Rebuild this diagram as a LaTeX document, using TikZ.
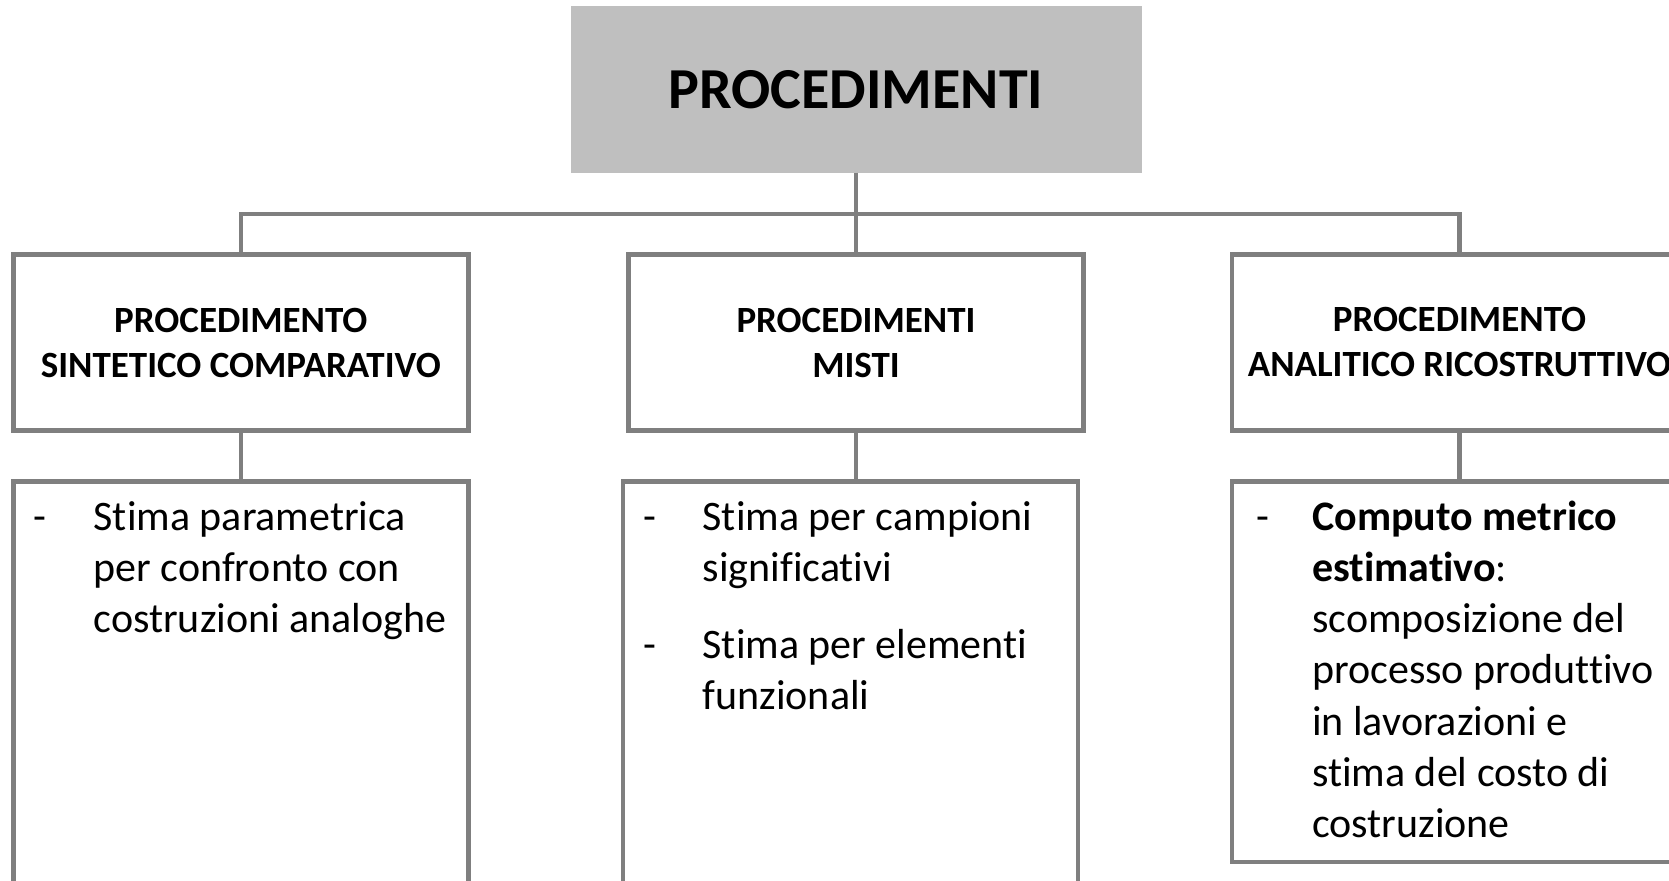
\documentclass[tikz,border=0pt]{standalone}
\usepackage{fontspec}
\setmainfont{Carlito}[Ligatures=NoCommon]
\definecolor{linegray}{HTML}{7F7F7F}
\definecolor{titlegray}{HTML}{BFBFBF}

\begin{document}
\begin{tikzpicture}[x=1pt,y=-1pt,
    title/.style={fill=titlegray, inner sep=0pt, minimum width=571pt, minimum height=166pt, font=\fontsize{58}{70}\selectfont\bfseries},
    headbox/.style={draw=linegray, line width=4.5pt, inner sep=0pt, minimum width=455pt, minimum height=176pt, align=center, font=\fontsize{37}{45}\selectfont\bfseries},
    listbox/.style={draw=linegray, line width=4.5pt, inner sep=0pt, minimum width=455pt},
    listdash/.style={anchor=base west, inner sep=0pt, font=\fontsize{42}{51.3}\selectfont},
    entry/.style={anchor=base west, inner sep=0pt, align=left, font=\fontsize{42}{51.3}\selectfont},
    link/.style={draw=linegray, line width=4.5pt}]
    \useasboundingbox (0,0) rectangle (1669,880);
    \clip (0,0) rectangle (1669,880);

    % boxes
    \node[title] (proc) at (856,89.5) {PROCEDIMENTI};
    \node[headbox] (sint) at (240.8,342.5) {PROCEDIMENTO\\SINTETICO COMPARATIVO};
    \node[headbox] (misti) at (856,342.5) {PROCEDIMENTI\\MISTI};
    \node[headbox] (anal) at (1459.5,342.5) {PROCEDIMENTO\\ANALITICO RICOSTRUTTIVO};
    \node[listbox, minimum height=438pt] (sintlist) at (240.8,700.5) {};
    \node[listbox, minimum height=438pt] (mistilist) at (850.7,700.5) {};
    \node[listbox, minimum height=380.5pt] (anallist) at (1459.5,671.75) {};

    % connectors
    \coordinate (bus) at (856,214);
    \draw[link] (proc.south) -- (misti.north);
    \draw[link] (sint.north) |- (bus) -| (anal.north);
    \draw[link] (sint) -- (sintlist);
    \draw[link] (misti.south) -- (misti.south |- mistilist.north);
    \draw[link] (anal) -- (anallist);

    % lists (entries placed at the baseline of their last line)
    \node[listdash] (dashA) at (33,530) {-};
    \node[entry] (entA) at (93.5,632.6) {Stima parametrica\\per confronto con\\costruzioni analoghe};
    \node[listdash] (dashB1) at (643,530) {-};
    \node[entry] (entB1) at (702.5,581.3) {Stima per campioni\\significativi};
    \node[listdash] (dashB2) at (643,658) {-};
    \node[entry] (entB2) at (702.5,709.3) {Stima per elementi\\funzionali};
    \node[listdash] (dashC) at (1256,530) {-};
    \node[entry] (entC) at (1312,837.8) {\textbf{Computo metrico}\\\textbf{estimativo}:\\scomposizione del\\processo produttivo\\in lavorazioni e\\stima del costo di\\costruzione};
\end{tikzpicture}
\end{document}
